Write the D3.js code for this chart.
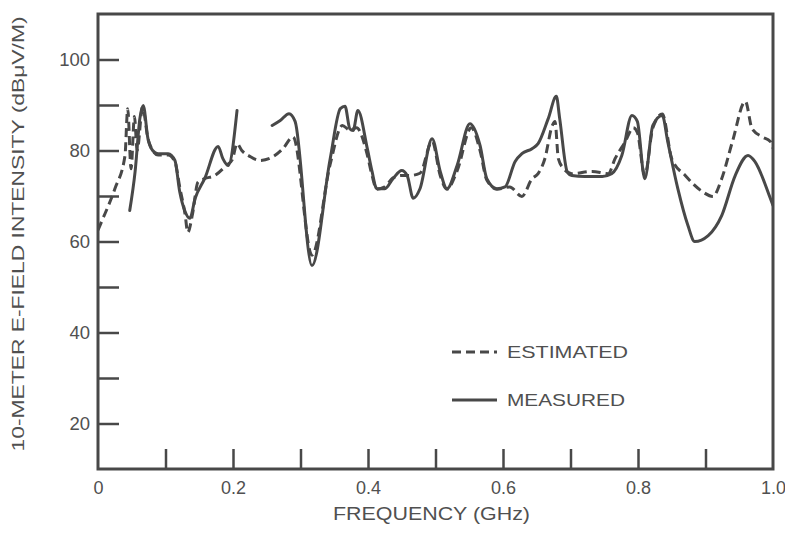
<!DOCTYPE html>
<html><head><meta charset="utf-8">
<script src="https://cdn.jsdelivr.net/npm/d3@7"></script>
<style>
html,body{margin:0;padding:0;background:#fff;}
svg{display:block;}
text{font-family:"Liberation Sans",Arial,sans-serif;fill:#505050;}
</style></head>
<body>
<svg id="chart" width="785" height="537"></svg>
<script>
// ---- data (frequency in GHz, intensity in dBuV/M) ----
const measuredFreqA = [0.047,0.055,0.062,0.067,0.074,0.081,0.089,0.104,0.114,0.121,0.129,0.136,0.144,0.158,0.178,0.185,0.193,0.206];
const measuredValA  = [66.8,75.4,87.0,89.9,82.6,80.0,79.3,79.3,77.8,71.0,66.6,65.1,69.5,73.8,80.9,78.2,76.7,88.8];
const measuredFreqB = [0.258,0.270,0.283,0.292,0.317,0.344,0.359,0.366,0.373,0.378,0.385,0.399,0.406,0.413,0.425,0.437,0.450,0.458,0.467,0.477,0.495,0.507,0.517,0.532,0.551,0.566,0.576,0.591,0.603,0.618,0.628,0.643,0.652,0.667,0.679,0.684,0.695,0.702,0.721,0.747,0.761,0.776,0.791,0.799,0.810,0.822,0.836,0.844,0.859,0.874,0.884,0.904,0.924,0.944,0.963,0.973,0.996,1.0];
const measuredValB  = [85.5,86.6,88.1,86.4,54.7,78.2,89.2,89.7,84.8,84.4,88.8,80.4,75.4,71.6,71.6,73.8,75.6,74.5,69.5,71.6,82.6,75.4,71.6,76.7,85.9,81.1,73.8,71.6,72.0,77.6,79.3,80.4,81.5,87.0,91.9,87.0,75.4,74.5,74.3,74.3,74.9,78.9,87.7,86.4,73.8,85.5,87.7,82.0,71.6,63.5,60.0,61.3,65.7,74.5,78.9,77.6,69.5,67.9];
const estimatedFreq = [0.0,0.006,0.025,0.040,0.044,0.049,0.054,0.058,0.066,0.074,0.081,0.089,0.104,0.114,0.121,0.129,0.133,0.140,0.148,0.158,0.173,0.190,0.199,0.206,0.213,0.225,0.240,0.260,0.274,0.289,0.317,0.344,0.362,0.373,0.383,0.399,0.406,0.413,0.425,0.437,0.450,0.462,0.477,0.495,0.507,0.517,0.532,0.553,0.566,0.576,0.591,0.610,0.628,0.643,0.652,0.662,0.673,0.677,0.682,0.690,0.702,0.732,0.756,0.766,0.781,0.793,0.799,0.810,0.822,0.836,0.850,0.870,0.895,0.911,0.924,0.940,0.959,0.969,0.984,0.996,1.0];
const estimatedVal  = [62.5,64.6,71.6,78.9,89.2,76.0,87.5,80.0,89.5,82.6,80.0,79.0,79.0,77.5,72.0,66.0,62.0,66.0,73.0,73.8,74.5,76.7,78.0,81.5,80.0,78.7,77.8,78.7,80.4,83.0,57.0,77.0,85.5,84.5,85.0,79.0,74.5,71.5,72.0,74.0,74.5,74.5,75.0,82.0,74.5,71.5,75.5,85.0,80.0,73.5,71.5,72.0,69.9,73.8,74.9,78.2,85.5,86.4,78.2,76.0,74.9,75.4,74.9,78.2,81.9,85.0,84.0,74.5,85.0,88.0,78.2,74.5,71.0,69.9,73.8,82.0,90.8,84.8,83.0,82.0,80.5];
const yTickValues = [20,30,40,50,60,70,80,90,100];
const xTickValues = [0,0.1,0.2,0.3,0.4,0.5,0.6,0.7,0.8,0.9,1.0];
const legendLabels = ["ESTIMATED","MEASURED"];
const xTitle = "FREQUENCY (GHz)";
const yTitle = "10-METER E-FIELD INTENSITY (dBμV/M)";

// ---- drawing ----
const svg = d3.select("#chart");
const ink = "#484848";
const x = d3.scaleLinear().domain([0,1]).range([98,773]);
const y = d3.scaleLinear().domain([10,110]).range([469,14]);

// axes with inward ticks
const yAxis = d3.axisLeft(y).tickValues(yTickValues).tickSizeInner(-21).tickSizeOuter(0).tickPadding(8)
  .tickFormat(d => d % 20 === 0 ? String(d) : "");
const gy = svg.append("g").attr("transform","translate(98,0)").call(yAxis);
gy.select(".domain").remove();
gy.selectAll(".tick line").attr("stroke",ink).attr("stroke-width",2.5);
gy.selectAll(".tick text").attr("font-size",18.5).attr("fill","#505050").attr("x",-8)
  .style("font-family","'Liberation Sans',Arial,sans-serif");

const xAxis = d3.axisBottom(x).tickValues(xTickValues).tickSizeInner(-20).tickSizeOuter(0).tickPadding(12)
  .tickFormat(d => { const k = Math.round(d*10); if (k===0) return "0"; return k%2===0 ? d.toFixed(1) : ""; });
const gx = svg.append("g").attr("transform","translate(0,469)").call(xAxis);
gx.select(".domain").remove();
gx.selectAll(".tick line").attr("stroke",ink).attr("stroke-width",2.5)
  .attr("display",(d)=> (d===0||d===1)?"none":null);
gx.selectAll(".tick text").attr("font-size",18).attr("fill","#505050")
  .style("font-family","'Liberation Sans',Arial,sans-serif");

// frame
svg.append("rect").attr("x",x(0)).attr("y",y(110)).attr("width",x(1)-x(0)).attr("height",y(10)-y(110))
  .attr("fill","none").attr("stroke",ink).attr("stroke-width",3);

// lines
const line = d3.line().x(d=>x(d[0])).y(d=>y(d[1])).curve(d3.curveMonotoneX);
const mA = d3.zip(measuredFreqA, measuredValA);
const mB = d3.zip(measuredFreqB, measuredValB);
const est = d3.zip(estimatedFreq, estimatedVal);

const clip = svg.append("clipPath").attr("id","clip").append("rect")
  .attr("x",x(0)).attr("y",y(110)).attr("width",x(1)-x(0)).attr("height",y(10)-y(110));
const plot = svg.append("g").attr("clip-path","url(#clip)");
plot.append("path").attr("d",line(est)).attr("fill","none").attr("stroke",ink)
  .attr("stroke-width",3).attr("stroke-dasharray","9,5").attr("stroke-linejoin","round");
[mA,mB].forEach(seg => plot.append("path").attr("d",line(seg)).attr("fill","none").attr("stroke",ink)
  .attr("stroke-width",3).attr("stroke-linejoin","round").attr("stroke-linecap","round"));

// legend
const lg = svg.append("g");
lg.append("line").attr("x1",452).attr("x2",497).attr("y1",352).attr("y2",352)
  .attr("stroke",ink).attr("stroke-width",3).attr("stroke-dasharray","9,5");
lg.append("line").attr("x1",452).attr("x2",497).attr("y1",400).attr("y2",400)
  .attr("stroke",ink).attr("stroke-width",3);
lg.append("text").attr("x",507).attr("y",358).attr("font-size",17).attr("textLength",121).attr("lengthAdjust","spacingAndGlyphs").text(legendLabels[0]);
lg.append("text").attr("x",507).attr("y",406).attr("font-size",17).attr("textLength",118).attr("lengthAdjust","spacingAndGlyphs").text(legendLabels[1]);

// titles
svg.append("text").attr("x",333).attr("y",520).attr("font-size",18)
  .attr("textLength",197).attr("lengthAdjust","spacingAndGlyphs").text(xTitle);
svg.append("text").attr("transform","translate(24,234) rotate(-90)").attr("text-anchor","middle")
  .attr("font-size",17).attr("textLength",435).attr("lengthAdjust","spacingAndGlyphs").text(yTitle);
</script>
</body></html>
